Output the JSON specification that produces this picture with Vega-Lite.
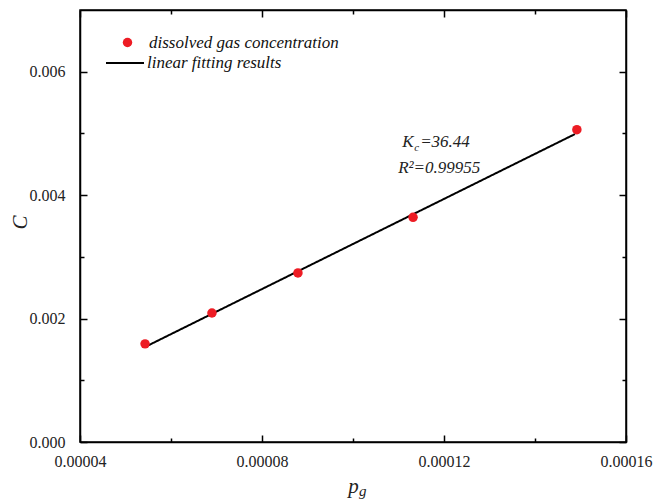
{
  "$schema": "https://vega.github.io/schema/vega-lite/v6.json",
  "width": 546,
  "height": 432,
  "autosize": "none",
  "padding": {"left": 80, "top": 10, "right": 28, "bottom": 58},
  "background": "white",
  "config": {
    "view": {"stroke": "black", "strokeWidth": 1.5},
    "font": "Liberation Serif",
    "axis": {
      "domainColor": "black",
      "domainWidth": 1.5,
      "tickColor": "black",
      "tickWidth": 1.5,
      "grid": false,
      "labelFont": "Liberation Serif",
      "labelFontSize": 16,
      "labelColor": "#222",
      "labelOverlap": false,
      "labelFlush": false,
      "labelBound": false
    },
    "legend": {
      "title": null,
      "orient": "none",
      "padding": 0,
      "labelFont": "Liberation Serif",
      "labelFontStyle": "italic",
      "labelFontSize": 17,
      "labelColor": "#111",
      "labelLimit": 400
    }
  },
  "datasets": {
    "measured": [
      {"pg": 0.0000543, "C": 0.00159, "series": "dissolved gas concentration"},
      {"pg": 0.0000690, "C": 0.00209, "series": "dissolved gas concentration"},
      {"pg": 0.0000879, "C": 0.00274, "series": "dissolved gas concentration"},
      {"pg": 0.0001132, "C": 0.00364, "series": "dissolved gas concentration"},
      {"pg": 0.0001492, "C": 0.00506, "series": "dissolved gas concentration"}
    ],
    "fit": [
      {"pg": 0.0000543, "C": 0.00154, "series": "linear fitting results"},
      {"pg": 0.0001488, "C": 0.00499, "series": "linear fitting results"}
    ],
    "note": [
      {"Kc": 36.44, "R2": 0.99955}
    ]
  },
  "layer": [
    {
      "data": {"name": "fit"},
      "mark": {"type": "line", "color": "black", "strokeWidth": 2},
      "encoding": {
        "x": {
          "field": "pg", "type": "quantitative",
          "scale": {"domain": [0.00004, 0.00016], "nice": false, "zero": false},
          "axis": {
            "orient": "top", "labels": false, "title": null,
            "values": [0.00004, 0.00006, 0.00008, 0.0001, 0.00012, 0.00014, 0.00016],
            "tickSize": {"condition": {"test": "round(datum.value*100000) % 4 === 0", "value": -7}, "value": -4}
          }
        },
        "y": {
          "field": "C", "type": "quantitative",
          "scale": {"domain": [0, 0.007], "nice": false, "zero": false},
          "axis": {
            "orient": "right", "labels": false, "title": null,
            "values": [0, 0.001, 0.002, 0.003, 0.004, 0.005, 0.006],
            "tickSize": {"condition": {"test": "round(datum.value*1000) % 2 === 0", "value": -7}, "value": -4}
          }
        },
        "strokeDash": {
          "field": "series", "type": "nominal",
          "scale": {"domain": ["linear fitting results"], "range": [[1, 0]]},
          "legend": {
            "legendX": 25,
            "legendY": 33,
            "symbolType": "stroke",
            "symbolSize": 1444,
            "symbolStrokeColor": "black",
            "symbolStrokeWidth": 1.8,
            "labelOffset": 2,
            "labelFont": "Liberation Serif",
            "labelFontStyle": "italic",
            "labelFontSize": 17
          }
        }
      }
    },
    {
      "data": {"name": "measured"},
      "mark": {"type": "circle", "size": 90, "opacity": 1},
      "encoding": {
        "x": {
          "field": "pg", "type": "quantitative",
          "scale": {"domain": [0.00004, 0.00016], "nice": false, "zero": false},
          "axis": {
            "orient": "bottom",
            "values": [0.00004, 0.00006, 0.00008, 0.0001, 0.00012, 0.00014, 0.00016],
            "labelExpr": "round(datum.value*100000) % 4 === 0 ? format(datum.value, '.5f') : ''",
            "tickSize": {"condition": {"test": "round(datum.value*100000) % 4 === 0", "value": -7}, "value": -4},
            "labelPadding": 18,
            "labelFont": "Liberation Serif",
            "labelFontSize": 16,
            "title": "p",
            "titleFont": "Liberation Serif",
            "titleFontStyle": "italic",
            "titleFontWeight": "normal",
            "titleFontSize": 21,
            "titleColor": "#222",
            "titleBaseline": "alphabetic",
            "titleY": 50
          }
        },
        "y": {
          "field": "C", "type": "quantitative",
          "scale": {"domain": [0, 0.007], "nice": false, "zero": false},
          "axis": {
            "orient": "left",
            "values": [0, 0.001, 0.002, 0.003, 0.004, 0.005, 0.006],
            "labelExpr": "round(datum.value*1000) % 2 === 0 ? format(datum.value, '.3f') : ''",
            "tickSize": {"condition": {"test": "round(datum.value*1000) % 2 === 0", "value": -7}, "value": -4},
            "labelPadding": 22,
            "labelFont": "Liberation Serif",
            "labelFontSize": 16,
            "title": "C",
            "titleFont": "Liberation Serif",
            "titleFontStyle": "italic",
            "titleFontWeight": "normal",
            "titleFontSize": 21,
            "titleColor": "#222",
            "titleAngle": -90,
            "titleAlign": "center",
            "titleBaseline": "alphabetic",
            "titleX": -54,
            "titleY": 212
          }
        },
        "color": {
          "field": "series", "type": "nominal",
          "scale": {"domain": ["dissolved gas concentration"], "range": ["#ED1C24"]},
          "legend": {
            "legendX": 39,
            "legendY": 24,
            "symbolType": "circle",
            "symbolSize": 90,
            "symbolOpacity": 1,
            "labelOffset": 13,
            "labelFont": "Liberation Serif",
            "labelFontStyle": "italic",
            "labelFontSize": 17
          }
        }
      }
    },
    {
      "data": {"name": "note"},
      "mark": {"type": "text", "text": "K", "font": "Liberation Serif", "fontStyle": "italic", "fontSize": 17, "align": "left", "baseline": "alphabetic", "color": "#222"},
      "encoding": {"x": {"datum": 0.0001108, "type": "quantitative", "axis": null}, "y": {"datum": 0.00478, "type": "quantitative", "axis": null}}
    },
    {
      "data": {"name": "note"},
      "mark": {"type": "text", "text": "c", "font": "Liberation Serif", "fontStyle": "italic", "fontSize": 11, "align": "left", "baseline": "alphabetic", "dx": 12, "dy": 4, "color": "#222"},
      "encoding": {"x": {"datum": 0.0001108, "type": "quantitative", "axis": null}, "y": {"datum": 0.00478, "type": "quantitative", "axis": null}}
    },
    {
      "data": {"name": "note"},
      "mark": {"type": "text", "text": "=36.44", "font": "Liberation Serif", "fontStyle": "italic", "fontSize": 17, "align": "left", "baseline": "alphabetic", "dx": 18, "color": "#222"},
      "encoding": {"x": {"datum": 0.0001108, "type": "quantitative", "axis": null}, "y": {"datum": 0.00478, "type": "quantitative", "axis": null}}
    },
    {
      "data": {"name": "note"},
      "mark": {"type": "text", "text": "R²=0.99955", "font": "Liberation Serif", "fontStyle": "italic", "fontSize": 17, "align": "left", "baseline": "alphabetic", "dx": -4, "color": "#222"},
      "encoding": {"x": {"datum": 0.0001108, "type": "quantitative", "axis": null}, "y": {"datum": 0.00436, "type": "quantitative", "axis": null}}
    },
    {
      "data": {"name": "note"},
      "mark": {"type": "text", "text": "g", "font": "Liberation Serif", "fontStyle": "italic", "fontSize": 15, "align": "left", "baseline": "alphabetic", "dx": 6, "dy": 54, "color": "#222", "clip": false},
      "encoding": {"x": {"datum": 0.0001, "type": "quantitative", "axis": null}, "y": {"datum": 0, "type": "quantitative", "axis": null}}
    }
  ],
  "resolve": {"axis": {"x": "independent", "y": "independent"}}
}
